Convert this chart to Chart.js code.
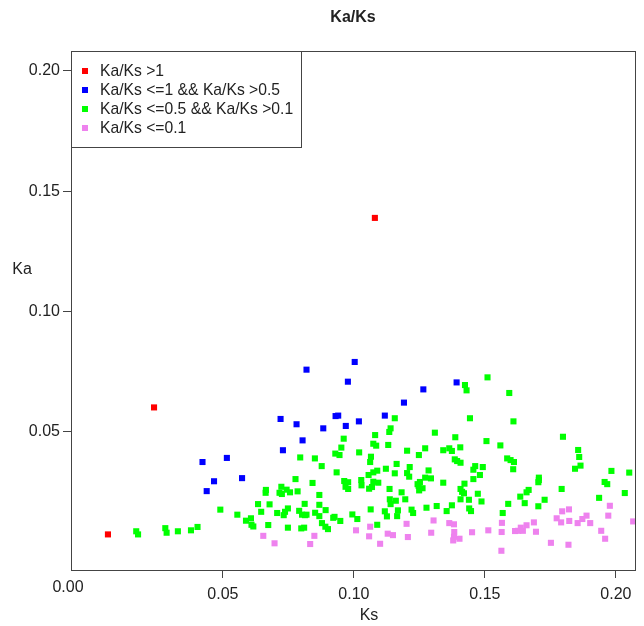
<!DOCTYPE html>
<html>
<head>
<meta charset="utf-8">
<script src="https://cdn.jsdelivr.net/npm/chart.js@4/dist/chart.umd.min.js"></script>
<style>
html,body{margin:0;padding:0;background:#fff;}
#wrap{width:644px;height:626px;}
</style>
</head>
<body>
<div id="wrap"><canvas id="c" width="644" height="626"></canvas></div>
<script>
// ---- data (Ks, Ka) per class ----
const chartTitle = "Ka/Ks";
const xTitle = "Ks";
const yTitle = "Ka";
const xTicks = [0.05, 0.10, 0.15, 0.20];
const yTicks = [0.05, 0.10, 0.15, 0.20];
const seriesLabels = ["Ka/Ks >1", "Ka/Ks <=1 && Ka/Ks >0.5", "Ka/Ks <=0.5 && Ka/Ks >0.1", "Ka/Ks <=0.1"];
const seriesColors = ["#ff0000", "#0000ff", "#00ff00", "#ee82ee"];

const redKs = [0.0061, 0.0237, 0.1080];
const redKa = [0.0073, 0.0601, 0.1389];

const blueKs = [0.0422,0.0438,0.0819,0.0977,0.0720,0.0781,0.0930,0.0940,0.0883,0.0969,0.0804,0.0729,0.0515,0.0466,0.0573,0.1003,0.1392,0.1265,0.1191,0.1118,0.1019];
const blueKa = [0.0374,0.0253,0.0758,0.0708,0.0553,0.0531,0.0565,0.0567,0.0514,0.0524,0.0464,0.0423,0.0391,0.0294,0.0307,0.0790,0.0705,0.0676,0.0621,0.0567,0.0543];

const greenKs = [0.0169,0.0176,0.0280,0.0285,0.0328,0.0378,0.0403,
0.0961,0.0952,0.0929,0.0945,0.0795,0.0851,0.0877,0.0934,0.0777,0.0842,0.0963,0.0978,0.0968,0.0978,0.0723,0.0743,0.0756,0.0664,0.0663,0.0716,0.0725,0.0785,0.0868,0.0634,0.0678,0.0812,0.0868,0.0490,0.0646,0.0748,0.0737,0.0732,0.0707,0.0791,0.0802,0.0813,0.0819,0.0852,0.0868,0.0892,0.0555,0.0588,0.0607,0.0609,0.0616,0.0673,0.0748,0.0799,0.0810,0.0878,0.0891,0.0901,0.0921,0.0926,0.0948,
0.1424,0.1430,0.1510,0.1156,0.1443,0.1140,0.1135,0.1309,0.1081,0.1387,0.1074,0.1085,0.1131,0.1506,0.1203,0.1272,0.1341,0.1364,0.1374,0.1406,0.1020,0.1248,0.1065,0.1062,0.1385,0.1394,0.1407,0.1463,0.1456,0.1492,0.1163,0.1213,0.1122,0.1285,0.1089,0.1074,0.1056,0.1156,0.1203,0.1211,0.1272,0.1294,0.1456,0.1481,0.1028,0.1029,0.1074,0.1093,0.1058,0.1069,0.1252,0.1247,0.1243,0.1262,0.1249,0.1341,0.1422,0.1136,0.1182,0.1407,0.1413,0.1420,0.1473,0.1137,0.1140,0.1160,0.1196,0.1407,0.1439,0.1487,0.1374,0.1316,0.1277,0.1064,0.1118,0.1168,0.1220,0.1226,0.1354,0.1440,0.1447,0.1126,0.1165,0.0994,0.1013,0.1089,
0.1593,0.1609,0.1559,0.1798,0.1856,0.1860,0.1865,0.1844,0.1585,0.1598,0.1611,0.1608,0.1706,0.1706,0.1704,0.1667,0.1659,0.1635,0.1652,0.1589,0.1728,0.1704,0.1568,0.1793,0.1936,0.1957,0.1967,0.1983,0.2034,0.2051];
const greenKa = [0.0086,0.0073,0.0099,0.0080,0.0086,0.0090,0.0104,
0.0471,0.0434,0.0409,0.0403,0.0393,0.0389,0.0357,0.0331,0.0303,0.0287,0.0295,0.0290,0.0271,0.0262,0.0271,0.0259,0.0248,0.0258,0.0246,0.0246,0.0241,0.0252,0.0237,0.0199,0.0198,0.0200,0.0196,0.0176,0.0167,0.0181,0.0167,0.0153,0.0162,0.0171,0.0155,0.0153,0.0155,0.0163,0.0149,0.0174,0.0155,0.0130,0.0140,0.0113,0.0106,0.0112,0.0101,0.0098,0.0101,0.0120,0.0105,0.0095,0.0142,0.0146,0.0129,
0.0694,0.0672,0.0726,0.0556,0.0556,0.0514,0.0499,0.0496,0.0486,0.0477,0.0450,0.0442,0.0445,0.0461,0.0421,0.0431,0.0423,0.0431,0.0420,0.0435,0.0414,0.0403,0.0396,0.0374,0.0385,0.0378,0.0371,0.0357,0.0342,0.0353,0.0366,0.0353,0.0346,0.0339,0.0338,0.0331,0.0320,0.0327,0.0328,0.0313,0.0309,0.0306,0.0303,0.0320,0.0299,0.0277,0.0292,0.0288,0.0263,0.0270,0.0291,0.0275,0.0282,0.0265,0.0256,0.0288,0.0284,0.0262,0.0248,0.0262,0.0250,0.0244,0.0242,0.0219,0.0199,0.0213,0.0219,0.0219,0.0217,0.0210,0.0194,0.0191,0.0184,0.0177,0.0169,0.0173,0.0176,0.0162,0.0170,0.0181,0.0170,0.0148,0.0149,0.0156,0.0137,0.0113,
0.0661,0.0543,0.0443,0.0479,0.0424,0.0395,0.0359,0.0346,0.0389,0.0382,0.0374,0.0344,0.0309,0.0299,0.0290,0.0258,0.0248,0.0230,0.0203,0.0200,0.0217,0.0190,0.0162,0.0262,0.0225,0.0291,0.0282,0.0337,0.0245,0.0330];

const violetKs = [0.0654,0.0697,0.0849,0.0833,
0.1062,0.1201,0.1304,0.1364,0.1382,0.1008,0.1058,0.1129,0.1149,0.1100,0.1206,0.1295,0.1383,0.1382,0.1379,0.1403,0.1451,0.1513,
0.1565,0.1564,0.1563,0.1615,0.1627,0.1637,0.1645,0.1659,0.1687,0.1695,0.1752,0.1774,0.1795,0.1821,0.1791,0.1822,0.1854,0.1872,0.1888,0.1902,0.1819,0.1944,0.1959,0.1971,0.1977,0.2066];
const violetKa = [0.0067,0.0036,0.0067,0.0033,
0.0105,0.0117,0.0131,0.0120,0.0115,0.0090,0.0065,0.0076,0.0070,0.0034,0.0062,0.0080,0.0083,0.0063,0.0048,0.0055,0.0082,0.0090,
0.0121,0.0083,0.0005,0.0087,0.0088,0.0101,0.0088,0.0111,0.0123,0.0084,0.0038,0.0140,0.0169,0.0177,0.0123,0.0129,0.0120,0.0137,0.0151,0.0120,0.0030,0.0088,0.0055,0.0151,0.0192,0.0127];

const xRange = [-0.008, 0.2073];
const yRange = [-0.0075, 0.2083];

function pts(xs, ys){ return xs.map((x,i)=>({x:x, y:ys[i]})); }
const allKs = [redKs, blueKs, greenKs, violetKs];
const allKa = [redKa, blueKa, greenKa, violetKa];

const FONT = "'Liberation Sans', Arial, Helvetica, sans-serif";
const AXIS_COLOR = "#444";
const TEXT_COLOR = "#222";

const decorPlugin = {
  id: 'decor',
  afterDraw(chart){
    const ctx = chart.ctx;
    const a = chart.chartArea;
    ctx.save();
    // box
    ctx.strokeStyle = AXIS_COLOR;
    ctx.lineWidth = 1;
    ctx.strokeRect(Math.round(a.left)+0.5, Math.round(a.top)+0.5, Math.round(a.right-a.left), Math.round(a.bottom-a.top));
    // title
    ctx.fillStyle = TEXT_COLOR;
    ctx.textAlign = 'center';
    ctx.textBaseline = 'middle';
    ctx.font = "bold 16px " + FONT;
    ctx.fillText(chartTitle, (a.left+a.right)/2, 18);
    // axis titles
    ctx.font = "16px " + FONT;
    ctx.fillText(xTitle, (a.left+a.right)/2 + 16, 616);
    ctx.fillText(yTitle, 22, 270);
    // extra "0.00" label
    ctx.fillText((0).toFixed(2), a.left - 3, 588);
    // legend
    const lx = Math.round(a.left)+0.5, ly = Math.round(a.top)+0.5, lw = 230, lh = 96;
    ctx.fillStyle = '#fff';
    ctx.fillRect(lx, ly, lw, lh);
    ctx.strokeStyle = AXIS_COLOR;
    ctx.strokeRect(lx, ly, lw, lh);
    ctx.textAlign = 'left';
    ctx.font = "15.7px " + FONT;
    seriesLabels.forEach((lab, i) => {
      const cy = a.top + 20 + i*19;
      ctx.fillStyle = seriesColors[i];
      ctx.fillRect(a.left + 11, cy - 3, 6, 6);
      ctx.fillStyle = TEXT_COLOR;
      ctx.fillText(lab, a.left + 29, cy + 1);
    });
    ctx.restore();
  }
};

const datasets = seriesLabels.map((lab, i) => ({
  label: lab,
  data: pts(allKs[i], allKa[i]),
  backgroundColor: seriesColors[i],
  borderWidth: 0,
  pointStyle: 'rect',
  pointRadius: 4.3,
  pointHoverRadius: 4.3
}));

new Chart(document.getElementById('c'), {
  type: 'scatter',
  data: { datasets },
  options: {
    responsive: false,
    animation: false,
    events: [],
    layout: { padding: { top: 51, right: 9, left: 0, bottom: 0 } },
    plugins: { legend: { display: false }, title: { display: false }, tooltip: { enabled: false } },
    scales: {
      x: {
        type: 'linear', min: xRange[0], max: xRange[1],
        afterBuildTicks: s => { s.ticks = xTicks.map(v => ({value: v})); },
        afterFit: s => { s.height = 56; },
        ticks: { callback: v => Number(v).toFixed(2), font: { family: FONT, size: 16 }, color: TEXT_COLOR, padding: 7, maxRotation: 0, autoSkip: false },
        grid: { display: true, drawOnChartArea: false, drawTicks: true, tickLength: 8, tickColor: AXIS_COLOR },
        border: { display: true, color: AXIS_COLOR }
      },
      y: {
        type: 'linear', min: yRange[0], max: yRange[1],
        afterBuildTicks: s => { s.ticks = yTicks.map(v => ({value: v})); },
        afterFit: s => { s.width = 71; },
        ticks: { callback: v => Number(v).toFixed(2), font: { family: FONT, size: 16 }, color: TEXT_COLOR, padding: 3, autoSkip: false },
        grid: { display: true, drawOnChartArea: false, drawTicks: true, tickLength: 8, tickColor: AXIS_COLOR },
        border: { display: true, color: AXIS_COLOR }
      }
    }
  },
  plugins: [decorPlugin]
});
</script>
</body>
</html>
